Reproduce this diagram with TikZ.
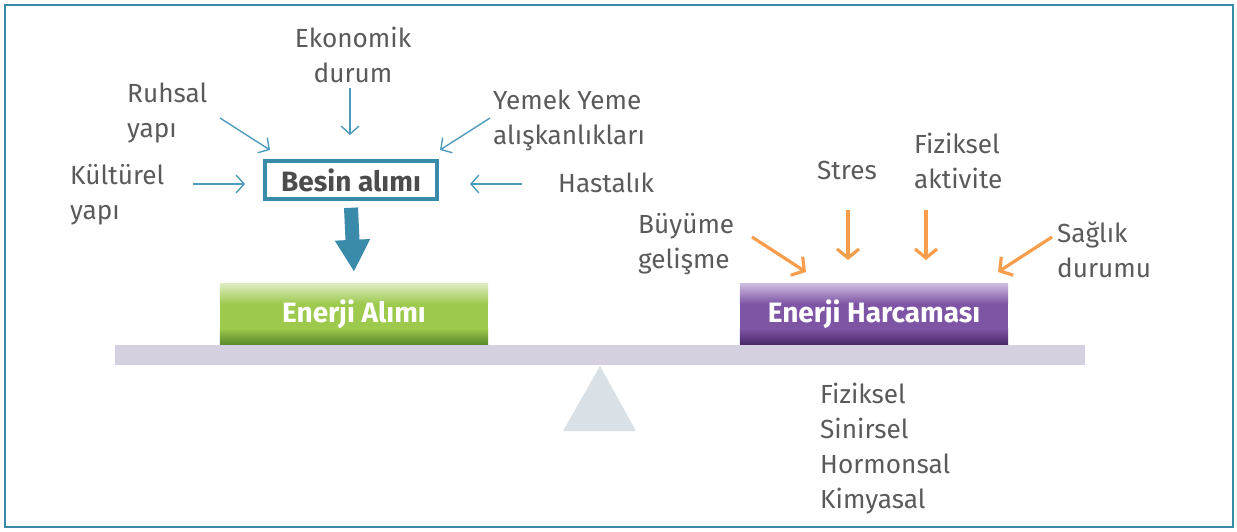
\documentclass[tikz,border=0pt]{standalone}
\usepackage{fontspec}
\setmainfont{Fira Sans}
\usetikzlibrary{arrows.meta,positioning,calc}
\definecolor{framecol}{HTML}{3A8BAA}
\definecolor{txtgray}{HTML}{5A5A5A}
\definecolor{inblue}{HTML}{4E9CBC}
\definecolor{outorange}{HTML}{F79D4B}
\definecolor{beamcol}{HTML}{D4D0E0}
\definecolor{pivotcol}{HTML}{D9E1E7}
\definecolor{greentop}{HTML}{DCEBC0}
\definecolor{greenmid}{HTML}{9DC94C}
\definecolor{greenbot}{HTML}{5A8A2C}
\definecolor{purptop}{HTML}{CBBADD}
\definecolor{purpmid}{HTML}{7E55A5}
\definecolor{purpbot}{HTML}{4A2A6A}

\begin{document}
\begin{tikzpicture}[x = 1pt, y = -1pt,
    lbl/.style = {anchor = north west, align = left, inner sep = 0pt, text = txtgray,
                  font = \fontsize{26.2}{35}\selectfont},
    inarrow/.style = {draw = inblue, line width = 1.4pt, -{Straight Barb[length=8pt, width=18pt]}},
    outarrow/.style = {draw = outorange, line width = 3.2pt, -{Straight Barb[length=9pt, width=22pt]}},
    energybox/.style = {minimum width = 268pt, minimum height = 60pt, inner sep = 0pt,
                        text = white, font = \fontsize{28}{32}\selectfont\bfseries}]
    \useasboundingbox (0,0) rectangle (1237,532);
    \draw[framecol, line width = 2.5pt] (5,5) rectangle (1233,527);

    % balance
    \fill[beamcol] (115,345) rectangle (1085,365);
    \fill[pivotcol] (600,366) -- (636,431) -- (563,431) -- cycle;

    % food intake side
    \node[draw = framecol, line width = 3.5pt, minimum width = 172pt, minimum height = 38pt,
          text = txtgray!85!black, font = \fontsize{28}{32}\selectfont\bfseries] (besin) at (351,180) {Besin alımı};
    \node[energybox, fill = greenmid] (alim) at (354,314) {};
    \shade[top color = greentop, bottom color = greenmid] (alim.north west) rectangle ([yshift=-20pt]alim.north east);
    \shade[top color = greenmid, bottom color = greenbot] ([yshift=16pt]alim.south west) rectangle (alim.south east);
    \node[energybox] at (alim) {Enerji Alımı};
    \draw[line width = 14pt, draw = framecol, -{Triangle[length=32pt, width=33pt]}] ([yshift=-7pt]besin.south) -- ([yshift=12pt]alim.north);

    \node[lbl, anchor = north, align = center] (ekonomik) at (353,22.5) {\strut Ekonomik\\durum};
    \node[lbl] (ruhsal) at (127,77.5) {\strut Ruhsal\\yapı};
    \node[lbl] (yemek) at (493,84.5) {\strut Yemek Yeme\\alışkanlıkları};
    \node[lbl] (kulturel) at (70,159.5) {\strut Kültürel\\yapı};
    \node[lbl] (hastalik) at (558,167.5) {\strut Hastalık};

    \coordinate (ruhsal-t) at (220,118);  \coordinate (ruhsal-h) at (270,150);
    \coordinate (ekonomik-t) at (350,88); \coordinate (ekonomik-h) at (350,135);
    \coordinate (yemek-t) at (490,118);   \coordinate (yemek-h) at (440,150);
    \coordinate (kulturel-t) at (193,184); \coordinate (kulturel-h) at (245,184);
    \coordinate (hastalik-t) at (522,184); \coordinate (hastalik-h) at (470,184);
    \draw[inarrow] (ruhsal-t) -- (ruhsal-h);
    \draw[inarrow] (ekonomik-t) -- (ekonomik-h);
    \draw[inarrow] (yemek-t) -- (yemek-h);
    \draw[inarrow] (kulturel-t) -- (kulturel-h);
    \draw[inarrow] (hastalik-t) -- (hastalik-h);

    % expenditure side
    \node[energybox, fill = purpmid] (harcama) at (874,314) {};
    \shade[top color = purptop, bottom color = purpmid] (harcama.north west) rectangle ([yshift=-20pt]harcama.north east);
    \shade[top color = purpmid, bottom color = purpbot] ([yshift=16pt]harcama.south west) rectangle (harcama.south east);
    \node[energybox] at (harcama) {Enerji Harcaması};

    \node[lbl] (buyume) at (638,208.5) {\strut Büyüme\\gelişme};
    \node[lbl] (stres) at (817,154.5) {\strut Stres};
    \node[lbl] (fiziksel) at (914,128.5) {\strut Fiziksel\\aktivite};
    \node[lbl] (saglik) at (1057,217.5) {\strut Sağlık\\durumu};
    \node[lbl] (etkenler) at (820,378.5) {\strut Fiziksel\\Sinirsel\\Hormonsal\\Kimyasal};

    \coordinate (buyume-t) at (752,237);   \coordinate (buyume-h) at (806,272);
    \coordinate (stres-t) at (848,210);    \coordinate (stres-h) at (848,260);
    \coordinate (fiziksel-t) at (926,210); \coordinate (fiziksel-h) at (926,260);
    \coordinate (saglik-t) at (1052,237);  \coordinate (saglik-h) at (998,272);
    \draw[outarrow] (buyume-t) -- (buyume-h);
    \draw[outarrow] (stres-t) -- (stres-h);
    \draw[outarrow] (fiziksel-t) -- (fiziksel-h);
    \draw[outarrow] (saglik-t) -- (saglik-h);
\end{tikzpicture}
\end{document}
